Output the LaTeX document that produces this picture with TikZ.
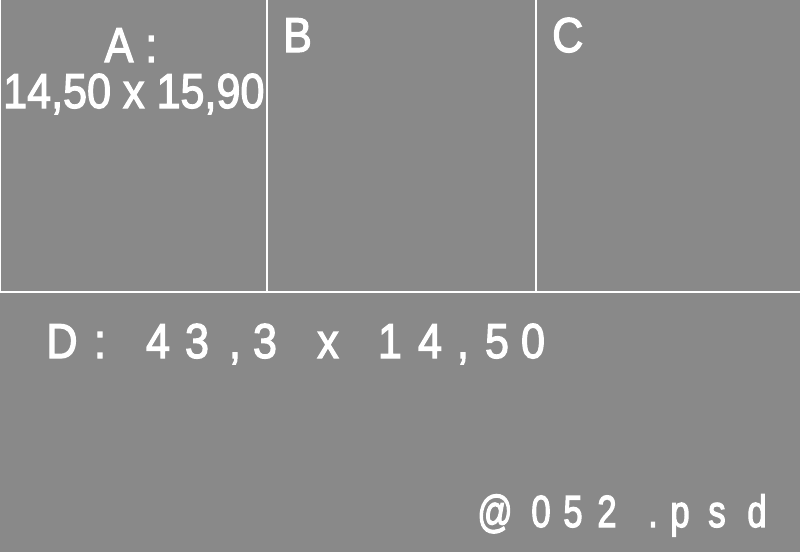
\documentclass[tikz,border=0pt]{standalone}
\usepackage{fontspec}
\setmainfont{Liberation Sans}
\usetikzlibrary{positioning}

\definecolor{panelgray}{HTML}{898989}
% fill and outline the glyphs a little, for a heavier stroke
\newcommand{\heavy}[1]{\special{pdf:code 2 Tr 1.3 w}#1\special{pdf:code 0 Tr}}

\begin{document}
\begin{tikzpicture}[x=1pt, y=-1pt,
    divider/.style={draw=white, line width=1.5pt},
    label/.style={text=white, inner sep=0pt, xscale=0.88,
        font=\fontsize{49}{49}\selectfont},
    glyph/.style={label, anchor=base, xscale=1}]
    % background and panel borders
    \fill[panelgray] (0,0) rectangle (800,552);
    \useasboundingbox (0,0) rectangle (800,552);
    \coordinate (tl) at (0,292);
    \coordinate (tr) at (800,292);
    \draw[divider] (tl) -- (tr);
    \draw[divider] (0,0) -- (0,292);
    \draw[divider] (267,0) -- (267,292);
    \draw[divider] (536,0) -- (536,292);

    % panel labels
    \node[label, anchor=base] (atitle) at (131,62) {\heavy{A :}};
    \node[label, anchor=base west] (asize) at (3,108) {\heavy{14,50 x 15,90}};
    \node[label, anchor=base west] (btitle) at (283,52) {\heavy{B}};
    \node[label, anchor=base west] (ctitle) at (552,52) {\heavy{C}};

    % spaced-out lines, one glyph at a time
    \foreach \cx/\ch [count=\i] in {62/D, 100/:, 158/4, 197/3, 235/{,}, 265/3,
            328/x, 390/1, 430/4, 463/{,}, 497/5, 533/0}
        \node[glyph] (d\i) at (\cx,358) {\heavy{\ch}};
    \foreach \cx/\ch [count=\i] in {495/@, 541/0, 573/5, 607/2, 653/., 680/p,
            717/s, 757/d}
        \node[glyph, xscale=0.88, font=\fontsize{45}{45}\selectfont] (f\i) at (\cx,527) {\heavy{\ch}};
\end{tikzpicture}
\end{document}
